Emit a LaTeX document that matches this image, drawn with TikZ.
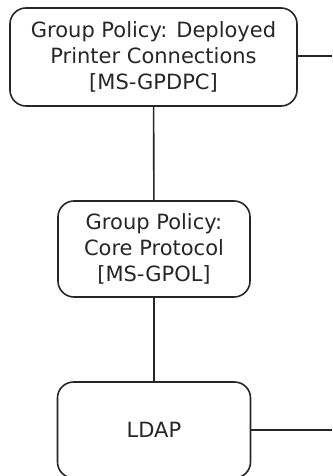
\documentclass[tikz,border=0pt]{standalone}
\usepackage{fontspec}
\setmainfont{DejaVu Sans}
\begin{document}
\begin{tikzpicture}[x=1pt,y=1pt,
  box/.style={draw=black!85,line width=1.6pt,rounded corners=16pt,align=center,inner sep=0pt,
    font=\fontsize{21}{26}\selectfont,text=black!85},
  conn/.style={draw=black!85,line width=1.6pt}]
\useasboundingbox (0,0) rectangle (332,-476);
\node[box,minimum width=287pt,minimum height=98pt] (gpdpc) at (153.5,-57) {Group Policy: Deployed\\Printer Connections\\{[MS-GPDPC]}};
\node[box,minimum width=192pt,minimum height=96pt] (gpol) at (154,-249) {Group Policy:\\Core Protocol\\{[MS-GPOL]}};
\node[box,minimum width=193pt,minimum height=96pt] (ldap) at (154,-430) {LDAP};
\coordinate (r1) at (332,-56);
\coordinate (r2) at (332,-430);
\draw[conn] (gpdpc) -- (gpol);
\draw[conn] (gpol) -- (ldap);
\draw[conn] (gpdpc.east |- r1) -- (r1);
\draw[conn] (ldap.east) -- (r2);
\end{tikzpicture}
\end{document}
